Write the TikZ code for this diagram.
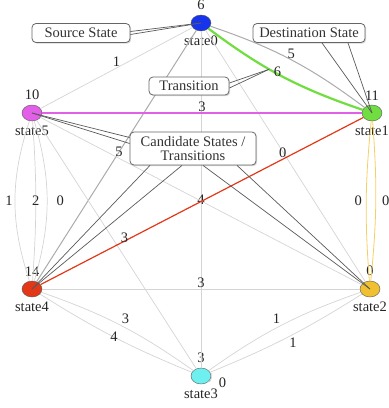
\documentclass[tikz,border=0pt]{standalone}
\usepackage{fontspec}
\setmainfont{Liberation Serif}
\usepackage{tikz}
\usetikzlibrary{calc}
\usetikzlibrary{shapes.geometric, arrows}
\usetikzlibrary{shadows}

\definecolor{srcblue}{RGB}{22,52,235}
\definecolor{dstgreen}{RGB}{112,222,64}
\definecolor{ambery}{RGB}{240,192,48}
\definecolor{cyanish}{RGB}{110,240,240}
\definecolor{reddish}{RGB}{226,56,24}
\definecolor{orchid}{RGB}{226,96,232}

\tikzstyle{state} = [ellipse, 
minimum width=20pt, 
minimum height=16pt, 
inner sep=0pt, 
draw=black!65, thin]
\tikzstyle{callout} = [rectangle, rounded corners=4pt, 
minimum height=19pt, 
inner sep=2pt, 
text=black!80, 
draw=black!60, line width=0.8pt, fill=white, 
drop shadow={shadow xshift=1.2pt, shadow yshift=-1.2pt, opacity=0.3}]
\tikzstyle{link} = [draw=black!17, line width=0.7pt]
\tikzstyle{greylink} = [draw=black!33, line width=1pt]
\tikzstyle{greenlink} = [draw=dstgreen, line width=2.2pt]
\tikzstyle{magentalink} = [draw=orchid, line width=1.1pt]
\tikzstyle{redlink} = [draw=reddish, line width=1.2pt]
\tikzstyle{yellowlink} = [draw=ambery!75, line width=0.8pt]
\tikzstyle{pointer} = [draw=black!65, line width=0.7pt]
\tikzstyle{weight} = [inner sep=1pt, text=black!85]

\begin{document}
\begin{tikzpicture} [x=1pt, y=1pt, font=\fontsize{14.5}{14}\selectfont, 
    label distance=3pt, every label/.style={inner sep=1.5pt, text=black!85}]

    \useasboundingbox (0,0) rectangle (389,-408);

    % the states
    \node (state0) [state, fill=srcblue, label=above:6, label=below:state0] at (201,-23) {};
    \node (state1) [state, fill=dstgreen, label=above:11, label=below:state1] at ($(state0) + (171,-90)$) {};
    \node (state2) [state, fill=ambery, label=above:0, label=below:state2] at ($(state1) + (-2,-176)$) {};
    \node (state3) [state, fill=cyanish, label=above:3, label=below:state3] at ($(state0) + (0,-353)$) {};
    \node (state4) [state, fill=reddish, label=above:14, label=below:state4] at ($(state0) + (-169,-266)$) {};
    \node (state5) [state, fill=orchid, label=above:10, label=below:state5] at ($(state0) + (-169,-90)$) {};

    % the transitions
    \draw [link] (state0) -- node [weight, above] {1} (state5);
    \draw [greylink] (state0) to [bend left=9] node [weight, above] {5} (state1);
    \draw [greenlink] (state0) to [bend right=9] node [weight, pos=0.47, yshift=2pt] {6} coordinate [pos=0.41] (trpt) (state1);
    \draw [greylink] (state0) -- node [weight, pos=0.485] {5} (state4);
    \draw [link] (state0) -- node [weight] {4} (state3);
    \draw [link] (state0) -- (state2);

    \draw [magentalink] (state5) -- node [weight, above] {3} (state1);
    \draw [link] (state5) -- (state2);
    \draw [link] (state5) -- (state3);
    \draw [link] (state5) to [bend right=18] node [weight, left=1pt] {1} (state4);
    \draw [link] (state5) to [bend left=4] node [weight] {2} (state4);
    \draw [link] (state5) to [bend left=16] node [weight, right=8pt] {0} (state4);

    \draw [redlink] (state4) -- node [weight, pos=0.26, yshift=3pt] {3} node [weight, pos=0.75, above] {0} (state1);
    \draw [yellowlink] (state1) to [bend right=5] node [weight, left=3pt] {0} (state2);
    \draw [yellowlink] (state1) to [bend left=5] node [weight, right=5pt] {0} (state2);

    \draw [link] (state4) -- node [weight, above] {3} (state2);
    \draw [link] (state4) to [bend left=8] node [weight, auto] {3} (state3);
    \draw [link] (state4) to [bend right=5] node [weight] {4} (state3);
    \draw [link] (state3) to [bend left=8] node [weight, auto] {1} (state2);
    \draw [link] (state3) to [bend right=5] node [weight, auto, swap] {1} (state2);
    \draw [link] (state3) to [loop, out=20, in=-40, every loop/.style={min distance=9pt}] node [weight, anchor=north west, inner sep=0pt, xshift=7pt] {0} (state3);

    % annotations
    \node (src) [callout, minimum width=98pt] at ($(state0) + (-120,-10)$) {Source State};
    \node (dst) [callout, minimum width=112pt] at ($(state1) + (-63,80)$) {Destination State};
    \node (trans) [callout, minimum width=80pt, minimum height=18pt] at ($(state0) + (-12,-63)$) {Transition};
    \node (cand) [callout, minimum width=126pt, minimum height=33pt, align=center] at ($(state0) + (-8,-125.5)$) {Candidate States /\\Transitions};

    % the pointers
    \draw [pointer] ($(src.east) + (0,1.5)$) -- (state0.center);
    \draw [pointer] ($(src.east) + (0,-1.5)$) -- (state0.center);
    \draw [pointer] ($(dst.south) + (13,0)$) -- (state1.center);
    \draw [pointer] ($(dst.south) + (39,0)$) -- (state1.center);
    \draw [pointer] ($(trans.east) + (0,3)$) -- (trpt);
    \draw [pointer] ($(trans.east) + (0,-2)$) -- (trpt);
    \draw [pointer] ($(cand.west) + (0,11)$) -- (state5.center);
    \draw [pointer] ($(cand.west) + (0,5)$) -- (state5.center);
    \draw [pointer] ($(cand.south) + (-43,0)$) -- (state4.center);
    \draw [pointer] ($(cand.south) + (-11,0)$) -- (state4.center);
    \draw [pointer] ($(cand.south) + (10,0)$) -- (state2.center);
    \draw [pointer] ($(cand.south) + (44,0)$) -- (state2.center);

\end{tikzpicture}
\end{document}
